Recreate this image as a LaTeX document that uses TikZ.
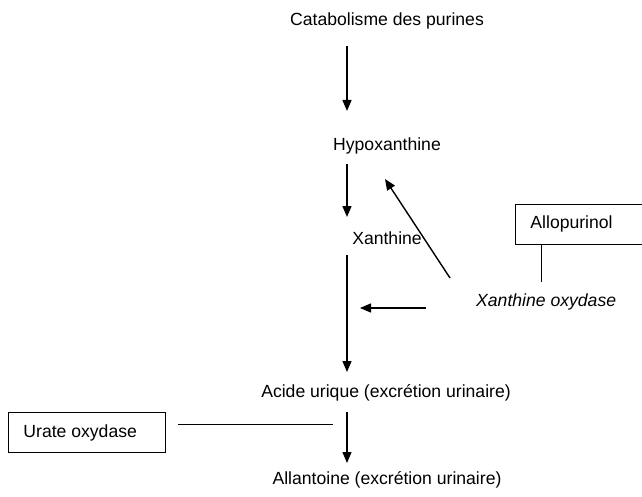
\documentclass[tikz,border=0pt]{standalone}
\usepackage{fontspec}
\setmainfont{Liberation Sans}
\usetikzlibrary{arrows.meta}
\begin{document}
\begin{tikzpicture}[x=1pt,y=-1pt,
  every node/.style={font=\fontsize{17.6}{20}\selectfont, inner sep=0pt},
  lbl/.style={anchor=center},
  flow/.style={line width=1.4pt, -{Triangle[length=11pt,width=9pt]}},
  link/.style={line width=0.9pt},
  box/.style={draw, line width=0.9pt, anchor=north west, inner xsep=15pt, minimum height=40pt}]
\useasboundingbox (0,0) rectangle (642,497);
\clip (0,0) rectangle (642,497);
% text nodes
\node[lbl] (cat) at (387,21) {Catabolisme des purines};
\node[lbl] (hyp) at (387,146) {Hypoxanthine};
\node[lbl] (xan) at (387,238) {Xanthine};
\node[lbl] (acu) at (386,393) {Acide urique (excrétion urinaire)};
\node[lbl] (all) at (387,480) {Allantoine (excrétion urinaire)};
\node[anchor=west] (xo) at (476,302) {\itshape Xanthine oxydase};
% boxes
\node[box] (allo) at (515,203.5) {\makebox[105pt][l]{Allopurinol}};
\node[box] (uox) at (8,412) {\makebox[127pt][l]{Urate oxydase}};
% arrow coordinates
\coordinate (a1s) at (347,46);  \coordinate (a1e) at (347,111);
\coordinate (a2s) at (347,164); \coordinate (a2e) at (347,217);
\coordinate (a3s) at (347,255); \coordinate (a3e) at (347,372);
\coordinate (a4s) at (347,412); \coordinate (a4e) at (347,463);
\coordinate (ds) at (450,278);  \coordinate (de) at (385,179);
\coordinate (hs) at (426,308);  \coordinate (he) at (360,308);
\coordinate (alloend) at (541,282);
\coordinate (uoxend) at (333,424);
% main flow
\draw[flow] (a1s) -- (a1e);
\draw[flow] (a2s) -- (a2e);
\draw[flow] (a3s) -- (a3e);
\draw[flow] (a4s) -- (a4e);
\draw[flow] (ds) -- (de);
\draw[flow] (hs) -- (he);
% inhibitor / enzyme links
\draw[link] (allo.south -| alloend) -- (alloend);
\draw[link] (uox.east |- uoxend) ++(12,0) -- (uoxend);
\end{tikzpicture}
\end{document}
